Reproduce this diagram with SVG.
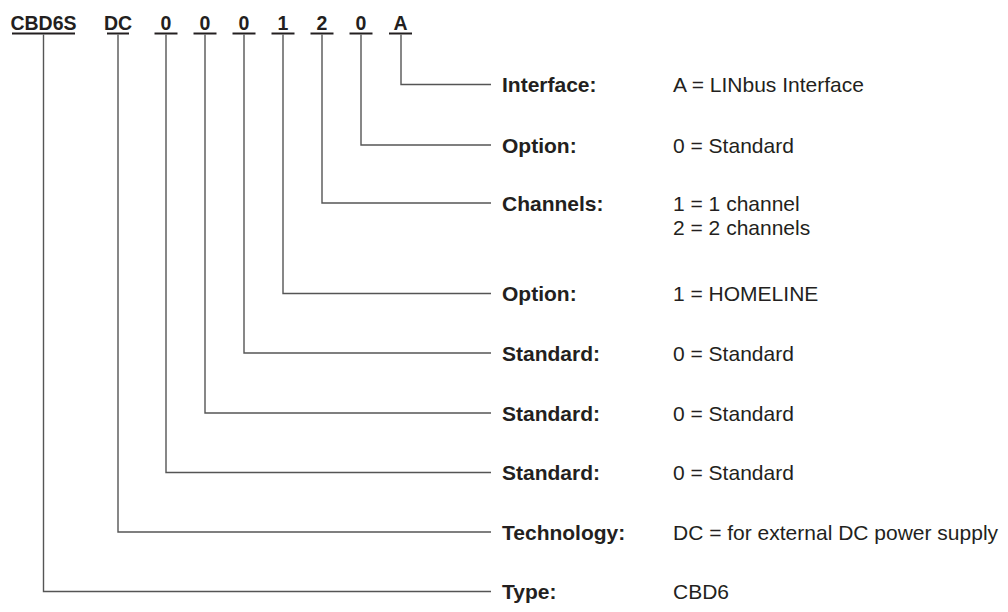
<svg xmlns="http://www.w3.org/2000/svg" width="1008" height="612" viewBox="0 0 1008 612">
<style>
.code{font-family:"Liberation Sans",Arial,sans-serif;font-weight:bold;font-size:19.5px;fill:#231f20;text-anchor:middle}
.lab{font-family:"Liberation Sans",Arial,sans-serif;font-weight:bold;font-size:21px;fill:#231f20}
.val{font-family:"Liberation Sans",Arial,sans-serif;font-size:21px;fill:#231f20}
.ul{stroke:#231f20;stroke-width:2;fill:none}
.con{stroke:#555;stroke-width:1.4;fill:none}
</style>
<rect width="1008" height="612" fill="#fff"/>
<g id="code">
<g id="c-type"><text class="code" x="43.5" y="29.5">CBD6S</text><line class="ul" x1="12" y1="33.5" x2="75" y2="33.5"/></g>
<g id="c-tech"><text class="code" x="118" y="29.5">DC</text><line class="ul" x1="107" y1="33.5" x2="129" y2="33.5"/></g>
<g id="c-std1"><text class="code" x="166" y="29.5">0</text><line class="ul" x1="154.5" y1="33.5" x2="177.5" y2="33.5"/></g>
<g id="c-std2"><text class="code" x="205" y="29.5">0</text><line class="ul" x1="193.5" y1="33.5" x2="216.5" y2="33.5"/></g>
<g id="c-std3"><text class="code" x="244" y="29.5">0</text><line class="ul" x1="232.5" y1="33.5" x2="255.5" y2="33.5"/></g>
<g id="c-opt1"><text class="code" x="283" y="29.5">1</text><line class="ul" x1="271.5" y1="33.5" x2="294.5" y2="33.5"/></g>
<g id="c-chan"><text class="code" x="322" y="29.5">2</text><line class="ul" x1="310.5" y1="33.5" x2="333.5" y2="33.5"/></g>
<g id="c-opt0"><text class="code" x="361" y="29.5">0</text><line class="ul" x1="349.5" y1="33.5" x2="372.5" y2="33.5"/></g>
<g id="c-if"><text class="code" x="400.5" y="29.5">A</text><line class="ul" x1="389" y1="33.5" x2="412" y2="33.5"/></g>
</g>
<g id="connectors">
<polyline class="con" points="401,34.5 401,84.5 491,84.5"/>
<polyline class="con" points="361,34.5 361,145 491,145"/>
<polyline class="con" points="322,34.5 322,203 491,203"/>
<polyline class="con" points="283,34.5 283,293.5 491,293.5"/>
<polyline class="con" points="244,34.5 244,353 491,353"/>
<polyline class="con" points="205,34.5 205,413 491,413"/>
<polyline class="con" points="166,34.5 166,472.5 491,472.5"/>
<polyline class="con" points="118,34.5 118,532 491,532"/>
<polyline class="con" points="43.5,34.5 43.5,591.5 491,591.5"/>
</g>
<g id="row-interface"><text class="lab" x="502" y="92">Interface:</text><text class="val" x="673" y="92">A = LINbus Interface</text></g>
<g id="row-option0"><text class="lab" x="502" y="153">Option:</text><text class="val" x="673" y="153">0 = Standard</text></g>
<g id="row-channels"><text class="lab" x="502" y="211">Channels:</text><text class="val" x="673" y="211">1 = 1 channel</text><text class="val" x="673" y="235">2 = 2 channels</text></g>
<g id="row-option1"><text class="lab" x="502" y="301">Option:</text><text class="val" x="673" y="301">1 = HOMELINE</text></g>
<g id="row-std3"><text class="lab" x="502" y="361">Standard:</text><text class="val" x="673" y="361">0 = Standard</text></g>
<g id="row-std2"><text class="lab" x="502" y="421">Standard:</text><text class="val" x="673" y="421">0 = Standard</text></g>
<g id="row-std1"><text class="lab" x="502" y="480">Standard:</text><text class="val" x="673" y="480">0 = Standard</text></g>
<g id="row-tech"><text class="lab" x="502" y="540">Technology:</text><text class="val" x="673" y="540">DC = for external DC power supply</text></g>
<g id="row-type"><text class="lab" x="502" y="599">Type:</text><text class="val" x="673" y="599">CBD6</text></g>
</svg>
